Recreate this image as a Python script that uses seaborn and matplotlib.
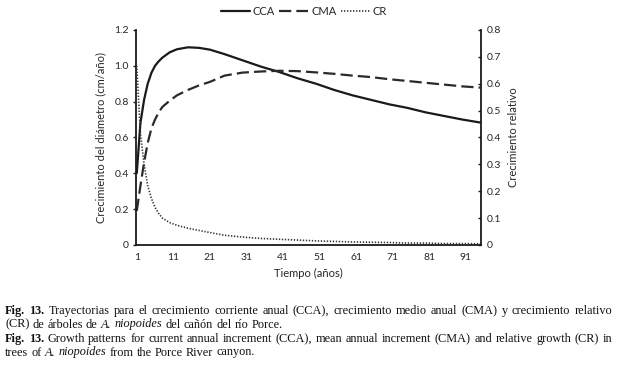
import numpy as np
import pandas as pd
import matplotlib
matplotlib.use('Agg')
import matplotlib.pyplot as plt
import seaborn as sns

years = [1, 2, 3, 4, 5, 6, 7, 8, 10, 12, 15, 18, 21, 25, 30, 35, 40, 45,
         50, 55, 60, 65, 70, 75, 80, 85, 90, 95]
cca = [0.40, 0.68, 0.81, 0.90, 0.96, 1.00, 1.025, 1.045, 1.075, 1.092, 1.103, 1.10,
       1.09, 1.065, 1.03, 0.995, 0.965, 0.93, 0.90, 0.865, 0.835, 0.81, 0.785,
       0.765, 0.74, 0.72, 0.70, 0.683]
cma = [0.19, 0.33, 0.46, 0.57, 0.65, 0.70, 0.74, 0.77, 0.805, 0.835, 0.865, 0.89,
       0.91, 0.945, 0.962, 0.968, 0.972, 0.97, 0.963, 0.955, 0.945, 0.937, 0.925,
       0.915, 0.905, 0.895, 0.885, 0.878]
# CR on the secondary axis (0 - 0.8)
cr = [0.667, 0.413, 0.30, 0.22, 0.173, 0.14, 0.117, 0.10, 0.083, 0.073, 0.062,
      0.054, 0.046, 0.036, 0.029, 0.024, 0.021, 0.018, 0.015, 0.013, 0.011, 0.01,
      0.009, 0.007, 0.007, 0.005, 0.005, 0.004]

xticks = [1, 11, 21, 31, 41, 51, 61, 71, 81, 91]
left_ticks = [0, 0.2, 0.4, 0.6, 0.8, 1.0, 1.2]
left_labels = ['0', '0.2', '0.4', '0.6', '0.8', '1.0', '1.2']
right_ticks = [0, 0.1, 0.2, 0.3, 0.4, 0.5, 0.6, 0.7, 0.8]
right_labels = ['0', '0.1', '0.2', '0.3', '0.4', '0.5', '0.6', '0.7', '0.8']

df = pd.DataFrame({'year': years, 'CCA': cca, 'CMA': cma, 'CR': cr})

sns.set_theme(style='white')
plt.rcParams['font.family'] = ['Lato', 'DejaVu Sans']
fs = 7.5

fig = plt.figure(figsize=(6.2, 3.65), dpi=100)
ax = fig.add_axes([0.220, 0.329, 0.556, 0.589])
ax2 = ax.twinx()

sns.lineplot(data=df, x='year', y='CCA', ax=ax, color='#1a1a1a', lw=1.6, label='CCA', legend=False)
sns.lineplot(data=df, x='year', y='CMA', ax=ax, color='#2a2a2a', lw=1.6, label='CMA',
             legend=False, dashes=False)
ax.lines[-1].set_dashes((5.5, 2.3))
sns.lineplot(data=df, x='year', y='CR', ax=ax2, color='#333333', lw=1.2, label='CR', legend=False)
ax2.lines[-1].set_dashes((0.8, 1.0))

ax.set_xlim(0.9, 95.2)
ax.set_ylim(0, 1.2)
ax2.set_ylim(0, 0.8)
ax.set_xticks(xticks)
ax.set_xticklabels([str(t) for t in xticks], fontsize=fs)
ax.set_yticks(left_ticks)
ax.set_yticklabels(left_labels, fontsize=fs)
ax2.set_yticks(right_ticks)
ax2.set_yticklabels(right_labels, fontsize=fs)

for a in (ax, ax2):
    a.spines['top'].set_visible(False)
    for s in ('left', 'right', 'bottom'):
        a.spines[s].set_color('#1a1a1a')
        a.spines[s].set_linewidth(1.3)
ax.spines['right'].set_visible(False)
ax2.spines['left'].set_visible(False)
ax2.spines['bottom'].set_visible(False)

ax.tick_params(axis='y', direction='out', length=2.5, width=1, color='#1a1a1a', pad=3, left=True)
ax.tick_params(axis='x', length=0, pad=6)
ax2.tick_params(axis='y', direction='in', length=2.5, width=1, color='#1a1a1a', pad=4, right=True)

ax.set_xlabel('Tiempo (años)', fontsize=fs + 0.5, labelpad=4)
ax.set_ylabel('Crecimiento del diámetro (cm/año)', fontsize=fs + 0.5, labelpad=6)
ax2.set_ylabel('Crecimiento relativo', fontsize=fs + 0.5, labelpad=5)

handles = ax.get_lines()[:2] + ax2.get_lines()[:1]
fig.legend(handles, ['CCA', 'CMA', 'CR'], loc='center', bbox_to_anchor=(0.49, 0.968),
           ncol=3, frameon=False, fontsize=fs + 0.5, handlelength=2.6,
           handletextpad=0.25, columnspacing=0.4)

# caption below the chart, drawn word by word so mixed styles fit on one line
serif = 'Liberation Serif'
cap_fs = 8.8
renderer = fig.canvas.get_renderer()


def draw_line(runs, y_px, x0=5, x1=612, justify=False):
    words = []
    for txt, style in runs:
        for w in txt.split(' '):
            if w:
                words.append((w, style))
    arts = []
    for w, style in words:
        t = fig.text(0, 1 - y_px / 365, w, fontsize=cap_fs, family=serif,
                     fontweight='bold' if style == 'b' else 'normal',
                     fontstyle='italic' if style == 'i' else 'normal',
                     va='baseline', ha='left', color='#111111')
        arts.append(t)
    widths = [a.get_window_extent(renderer).width for a in arts]
    t1 = fig.text(0, 0, 'a b', fontsize=cap_fs, family=serif)
    t2 = fig.text(0, 0, 'ab', fontsize=cap_fs, family=serif)
    sw = t1.get_window_extent(renderer).width - t2.get_window_extent(renderer).width
    t1.remove()
    t2.remove()
    if justify and len(arts) > 1:
        sw = (x1 - x0 - sum(widths)) / (len(arts) - 1)
    x = x0
    for a, w in zip(arts, widths):
        a.set_x(x / 620)
        x += w + sw


draw_line([('Fig. 13.', 'b'), (' Trayectorias para el crecimiento corriente anual (CCA), '
           'crecimiento medio anual (CMA) y crecimiento relativo', 'n')], 314, justify=True)
draw_line([('(CR) de árboles de', 'n'), ('A. niopoides', 'i'),
           ('del cañón del río Porce.', 'n')], 327.5)
draw_line([('Fig. 13.', 'b'), (' Growth patterns for current annual increment (CCA), mean '
           'annual increment (CMA) and relative growth (CR) in', 'n')], 342, justify=True)
draw_line([('trees of', 'n'), ('A. niopoides', 'i'), ('from the Porce River canyon.', 'n')], 355.5)

fig.savefig('out.png', dpi=100, facecolor='white')
